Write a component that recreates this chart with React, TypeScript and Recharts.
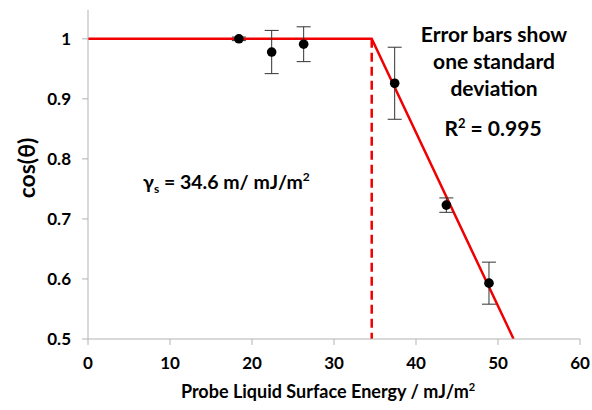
import React from 'react';
import {
  ComposedChart,
  Line,
  Scatter,
  ErrorBar,
  XAxis,
  YAxis,
} from 'recharts';

// axis ticks
const xTicks = [0, 10, 20, 30, 40, 50, 60];
const yTicks = [0.5, 0.6, 0.7, 0.8, 0.9, 1];

// measured points
const probeEnergy = [18.4, 22.4, 26.3, 37.4, 43.7, 48.9];
const cosTheta = [1.0, 0.978, 0.991, 0.926, 0.723, 0.593];
const stdDev = [0.003, 0.036, 0.029, 0.06, 0.012, 0.035];

// fitted line and critical surface energy
const fitX = [0, 34.6, 51.9];
const fitY = [1, 1, 0.5];
const critX = [34.6, 34.6];
const critY = [1, 0.5];

const points = probeEnergy.map((x, i) => ({ x, y: cosTheta[i], err: stdDev[i] }));
const fit = fitX.map((x, i) => ({ x, y: fitY[i] }));
const crit = critX.map((x, i) => ({ x, y: critY[i] }));

const FONT = 'Lato, "Open Sans", sans-serif';
const RED = '#f00000';
const AXIS = '#b3b3b3';
const BORDER = '#878787';

const tickStyle = { fontFamily: FONT, fontWeight: 700, fontSize: 17, fill: '#000' };

const txt: React.CSSProperties = {
  position: 'absolute',
  fontFamily: FONT,
  fontWeight: 700,
  color: '#000',
  whiteSpace: 'nowrap',
  lineHeight: 1,
};

const Dot = (props: any) => {
  const { cx, cy } = props;
  if (cx == null || cy == null) return null;
  return <circle cx={cx} cy={cy} r={4.8} fill="#000" />;
};

export default function App() {
  return (
    <div style={{ position: 'absolute', left: 0, top: 0, width: 592, height: 410, background: '#fff' }}>
      <ComposedChart
        width={592}
        height={410}
        margin={{ top: 10, right: 12, bottom: 41, left: 28 }}
      >
        <XAxis
          xAxisId="top"
          orientation="top"
          type="number"
          dataKey="x"
          domain={[0, 60]}
          height={0}
          tick={false}
          tickLine={false}
          axisLine={{ stroke: BORDER, strokeWidth: 1 }}
        />
        <YAxis
          yAxisId="right"
          orientation="right"
          type="number"
          domain={[0.5, 1.048]}
          width={0}
          tick={false}
          tickLine={false}
          axisLine={{ stroke: BORDER, strokeWidth: 1 }}
        />
        <XAxis
          type="number"
          dataKey="x"
          domain={[0, 60]}
          ticks={xTicks}
          height={30}
          tickSize={6}
          tickMargin={12}
          tick={tickStyle}
          stroke={AXIS}
          axisLine={{ stroke: AXIS }}
          tickLine={{ stroke: AXIS }}
        />
        <YAxis
          type="number"
          domain={[0.5, 1.048]}
          ticks={yTicks}
          width={60}
          tickSize={6}
          tickMargin={11}
          tick={tickStyle}
          axisLine={{ stroke: AXIS }}
          tickLine={{ stroke: AXIS }}
          allowDataOverflow
        />
        <Line
          data={fit}
          dataKey="y"
          stroke={RED}
          strokeWidth={2.5}
          dot={false}
          activeDot={false}
          isAnimationActive={false}
        />
        <Line
          data={crit}
          dataKey="y"
          stroke={RED}
          strokeWidth={2.5}
          strokeDasharray="9 5"
          dot={false}
          activeDot={false}
          isAnimationActive={false}
        />
        <Scatter data={points} dataKey="y" shape={<Dot />} isAnimationActive={false}>
          <ErrorBar dataKey="err" direction="y" width={7} stroke="#333" strokeWidth={1} />
        </Scatter>
      </ComposedChart>

      <div style={{ ...txt, fontSize: 23, left: 26, top: 168, transform: 'translate(-50%, -50%) rotate(-90deg)' }}>
        cos(θ)
      </div>
      <div style={{ ...txt, fontSize: 18, left: 328, top: 381, transform: 'translateX(-50%)' }}>
        Probe Liquid Surface Energy / mJ/m<sup style={{ fontSize: 11 }}>2</sup>
      </div>
      <div style={{ ...txt, fontSize: 19.5, left: 143, top: 171 }}>
        γ<sub style={{ fontSize: 12 }}>s</sub> = 34.6 m/ mJ/m<sup style={{ fontSize: 12 }}>2</sup>
      </div>
      <div style={{ ...txt, fontSize: 21, left: 494, top: 20, transform: 'translateX(-50%)', textAlign: 'center', lineHeight: '27px' }}>
        Error bars show<br />one standard<br />deviation
      </div>
      <div style={{ ...txt, fontSize: 21, left: 493, top: 117, transform: 'translateX(-50%)' }}>
        R<sup style={{ fontSize: 13 }}>2</sup> = 0.995
      </div>
    </div>
  );
}
